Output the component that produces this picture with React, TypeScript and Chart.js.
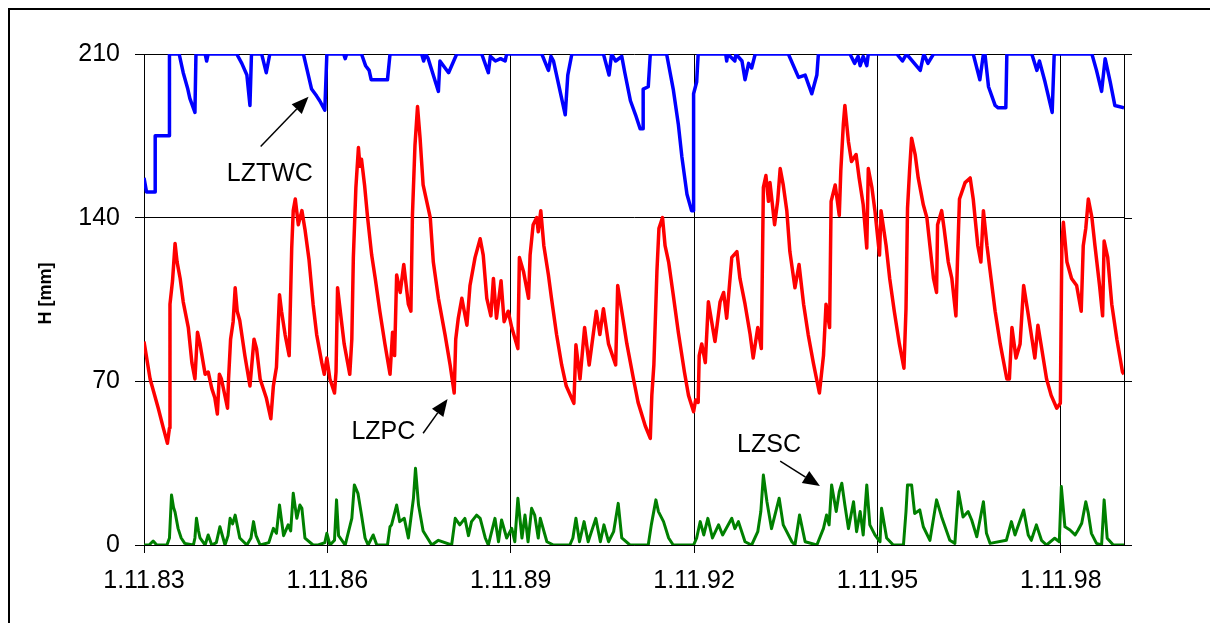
import React, { useEffect, useRef } from "react";
import { Chart, registerables } from "chart.js";

Chart.register(...registerables);

// x values are months since 1.11.83
const xMax = 192.4;
const tickMonths = [0, 36, 72, 108, 144, 180];
const tickLabels = ["1.11.83", "1.11.86", "1.11.89", "1.11.92", "1.11.95", "1.11.98"];
const yTickValues = [0, 70, 140, 210];
const yTitle = "H [mm]";

const lztwc: [number, number][] = [
  [0, 157], [0.5, 151], [2.2, 151], [2.2, 175], [5.0, 175], [5.0, 210], [6.9, 210], [7.7, 202], [8.6, 195], [9.0, 191],
  [10.0, 185], [10.2, 210], [12.0, 210], [12.3, 207], [12.6, 210], [18.2, 210], [19.2, 206], [20.2, 201], [20.8, 188], [21.1, 210],
  [23.1, 210], [24.0, 202], [24.7, 210], [31.3, 210], [32.9, 195], [33.9, 192], [34.5, 190], [35.5, 186], [35.9, 210], [39.2, 210],
  [39.5, 208], [39.8, 210], [42.7, 210], [43.5, 205], [44.2, 203], [44.6, 199], [47.8, 199], [48.3, 210], [54.5, 210], [54.9, 207],
  [55.3, 210], [55.8, 208], [57.8, 194], [58.1, 207], [59.8, 202], [61.4, 210], [66.3, 210], [67.6, 202], [68.0, 209], [69.0, 207],
  [70.0, 208], [70.9, 207], [71.2, 210], [78.1, 210], [79.4, 203], [79.9, 209], [80.4, 207], [82.7, 184], [83.2, 201], [84.0, 210],
  [90.2, 210], [91.3, 201], [91.8, 210], [92.6, 207], [93.8, 209], [94.4, 202], [95.5, 190], [96.5, 184], [97.4, 178], [98.0, 178],
  [98.0, 195], [99.0, 196], [99.4, 210], [102.6, 210], [103.9, 195], [104.9, 180], [105.6, 166], [106.6, 150], [107.5, 143], [107.9, 143],
  [107.9, 193], [108.5, 198], [108.8, 210], [114.2, 210], [114.4, 207], [114.6, 210], [116.0, 207], [116.2, 210], [117.4, 207], [118.0, 199],
  [118.7, 206], [119.3, 204], [120.0, 210], [126.5, 210], [128.5, 200], [129.8, 201], [131.1, 193], [132.1, 201], [132.4, 210], [138.6, 210],
  [139.5, 206], [140.2, 209], [140.6, 205], [141.2, 209], [141.9, 205], [142.2, 210], [147.8, 210], [148.9, 207], [149.7, 210], [152.4, 203],
  [153.1, 210], [153.9, 206], [155.0, 210], [162.8, 210], [164.1, 199], [164.8, 210], [165.1, 210], [165.8, 196], [167.1, 188], [167.7, 187],
  [169.2, 187], [169.4, 210], [174.3, 210], [175.3, 203], [175.8, 207], [176.9, 198], [178.3, 185], [178.7, 210], [186.1, 210], [187.0, 203],
  [188.0, 194], [188.7, 208], [189.7, 198], [190.6, 188], [192.4, 187],
];

const lzpc: [number, number][] = [
  [0, 87], [1.2, 71], [2.8, 58.5], [3.8, 50], [4.6, 43.5], [5.0, 50], [5.1, 103], [5.6, 113], [6.1, 129], [6.5, 121],
  [7.1, 114], [7.7, 104], [8.7, 93], [9.4, 78], [10.0, 71], [10.5, 91], [11.0, 86], [12.0, 73], [12.6, 74], [13.3, 67],
  [13.9, 63], [14.4, 56], [14.8, 73], [15.2, 71], [16.4, 58.5], [16.6, 71], [17.0, 88], [17.5, 95.5], [17.9, 110], [18.3, 100],
  [18.8, 96], [19.8, 81], [20.8, 68], [21.6, 88], [22.1, 84], [22.8, 71], [24.0, 63], [24.9, 54], [25.4, 68], [26.0, 76],
  [26.6, 107], [27.0, 100], [27.7, 90], [28.5, 81], [29.0, 127], [29.3, 143], [29.7, 148], [30.3, 137], [31.0, 143], [31.6, 135],
  [32.4, 122], [33.2, 103], [33.9, 90], [34.9, 78], [35.4, 73], [35.9, 80], [36.5, 71], [37.4, 65], [37.7, 74], [38.0, 110],
  [38.7, 97], [39.3, 86], [40.4, 73], [40.8, 88], [41.1, 123], [41.6, 153], [42.1, 170], [42.4, 162], [42.7, 165], [43.3, 154],
  [43.9, 140], [44.7, 124], [45.4, 114], [46.3, 100], [47.3, 86], [48.3, 73], [48.8, 91], [49.2, 81], [49.6, 115.5], [50.3, 108],
  [51.0, 120], [51.9, 103], [52.4, 100], [52.7, 141], [53.2, 171], [53.7, 187.5], [54.2, 174], [54.8, 154], [56.2, 140], [56.8, 121],
  [57.8, 105.5], [59.1, 90], [60.1, 77], [60.9, 65], [61.2, 88], [61.7, 97], [62.4, 105.5], [63.4, 94], [64.0, 111], [65.0, 123],
  [66.0, 131], [66.6, 124], [67.3, 105.5], [68.1, 98], [68.6, 114], [69.2, 97], [70.1, 113], [70.7, 95.5], [71.5, 100], [72.2, 93],
  [73.4, 84], [73.7, 123], [74.5, 117], [75.5, 105.5], [75.8, 124], [76.4, 137], [77.1, 140], [77.4, 134], [77.9, 143], [78.5, 128],
  [79.4, 115.5], [80.0, 105.5], [81.0, 90], [82.0, 77], [82.9, 68], [84.4, 60.6], [84.8, 85.6], [85.6, 71], [86.5, 93], [87.4, 77],
  [88.8, 100], [89.5, 90], [90.2, 101], [91.2, 86], [92.6, 77], [93.0, 111], [93.8, 100], [94.8, 86], [96.1, 71], [97.0, 61],
  [98.4, 51], [99.4, 45.6], [99.7, 64], [100.1, 77], [100.7, 117], [101.1, 135.5], [101.8, 140], [102.3, 128], [103.0, 121], [103.9, 107],
  [104.9, 91], [106.1, 74], [106.9, 64], [107.9, 57], [108.3, 62], [108.8, 61], [109.0, 81], [109.5, 86], [110.2, 78], [110.8, 104],
  [112.1, 87], [113.1, 104], [113.8, 108], [114.4, 97], [115.4, 123], [116.4, 125.5], [117.0, 114], [118.0, 103], [119.0, 90], [119.6, 80],
  [120.5, 93], [121.2, 84], [121.6, 153], [122.1, 158], [122.6, 147], [122.9, 155], [123.8, 137], [124.4, 147], [124.9, 161], [125.5, 154],
  [126.2, 143], [126.8, 125.5], [127.8, 110], [128.6, 120], [129.5, 103], [130.4, 90], [131.4, 78], [132.6, 65], [133.4, 81], [133.9, 103],
  [134.6, 93], [134.9, 147], [135.7, 154], [136.5, 141], [136.8, 160], [137.3, 180], [137.6, 188], [138.3, 172.5], [138.9, 164], [139.8, 167],
  [140.4, 157], [141.2, 145.5], [141.9, 127], [142.2, 161], [142.9, 153], [143.5, 143], [144.4, 124], [144.7, 143], [145.7, 128], [146.4, 114],
  [147.3, 100], [148.3, 86], [149.2, 75.6], [149.6, 101], [149.9, 144], [150.3, 160], [150.7, 174], [151.4, 167], [152.0, 157], [153.0, 145.5],
  [153.7, 140], [154.3, 128], [155.0, 114], [155.6, 108], [155.8, 137], [156.6, 143], [157.1, 135], [157.9, 121], [158.6, 114], [159.4, 98],
  [159.7, 121], [160.1, 148], [161.2, 155], [162.2, 157], [162.8, 148], [163.7, 128], [164.3, 121], [164.8, 143], [165.5, 128], [166.3, 114],
  [167.1, 100], [168.1, 86], [169.4, 71], [169.9, 71], [170.4, 93], [171.2, 80], [172.0, 86], [172.7, 111], [173.5, 100], [174.9, 80],
  [175.5, 94], [176.1, 86], [177.2, 71], [178.1, 64], [179.2, 58.5], [179.9, 60.6], [180.2, 128], [180.5, 138], [181.2, 121], [182.1, 114],
  [183.1, 111], [184.0, 100], [184.4, 128], [184.9, 135.5], [185.4, 148], [186.1, 140], [186.7, 128], [187.6, 111], [188.2, 98], [188.5, 130],
  [189.2, 123], [190.0, 103], [191.0, 88], [192.1, 74], [192.4, 73],
];

const lzsc: [number, number][] = [
  [0, 0], [1.0, 0], [1.8, 1.7], [2.5, 0], [4.5, 0], [5.0, 3], [5.4, 21.4], [5.8, 16], [6.1, 14], [6.7, 7],
  [7.3, 3], [8.0, 0.7], [9.7, 0], [10.0, 3], [10.3, 11.4], [10.7, 6], [11.0, 3], [12.0, 0], [12.6, 4.3], [13.3, 0],
  [14.2, 1], [14.9, 7.8], [15.9, 0], [16.5, 4], [16.9, 11.4], [17.4, 9], [17.9, 12.8], [18.8, 3], [20.2, 0], [21.0, 3],
  [21.5, 10], [22.0, 4], [22.8, 0], [24.5, 1], [25.4, 7.1], [26.0, 5], [26.6, 17.1], [27.4, 4], [28.3, 8.6], [28.8, 6],
  [29.3, 22.1], [30.0, 11.4], [30.6, 17.1], [31.0, 15.7], [31.6, 2.9], [33.2, 0], [34.2, 0], [35.5, 1], [35.9, 5], [36.5, 0],
  [37.4, 2], [37.8, 19.3], [38.2, 4], [39.5, 0], [40.8, 11.4], [41.3, 25.7], [42.0, 22.1], [42.7, 12.8], [43.4, 3], [44.0, 0],
  [45.0, 4.3], [45.7, 0], [47.8, 0], [48.3, 7.8], [48.6, 8.6], [49.6, 17.1], [50.2, 10], [51.1, 11.4], [51.9, 3], [52.9, 20],
  [53.3, 32.8], [53.9, 17.1], [54.8, 6], [56.5, 0], [57.8, 2], [60.4, 0], [61.1, 11.4], [62.0, 8.6], [63.0, 11.4], [63.7, 4],
  [64.3, 10], [65.3, 12.8], [66.0, 11.4], [67.0, 3], [67.6, 0], [68.9, 11.4], [69.6, 1.4], [70.2, 10.7], [71.2, 3], [72.2, 7.1],
  [72.8, 1.4], [73.4, 20], [74.2, 3], [74.8, 12.8], [75.4, 1.4], [76.1, 15.7], [76.7, 12.8], [77.4, 3], [77.8, 11.4], [79.1, 1.4],
  [80.4, 0], [83.6, 0], [84.2, 3], [84.8, 11.4], [85.5, 1.4], [86.4, 10], [87.2, 1.4], [88.7, 11.4], [89.6, 1.4], [90.3, 8.6],
  [91.2, 1.4], [92.2, 5.7], [93.1, 17.8], [93.8, 3], [95.4, 0], [99.0, 0], [99.6, 8.6], [100.5, 19.3], [101.0, 14.3], [102.0, 10],
  [103.0, 3], [103.9, 0], [107.9, 0], [108.5, 3], [109.2, 10], [109.9, 4.3], [110.7, 11.4], [111.6, 3], [112.8, 8.6], [113.6, 4.3],
  [115.4, 11.4], [116.0, 7], [116.7, 10], [118.0, 1.4], [119.3, 0], [120.5, 5.7], [121.1, 14.3], [121.6, 29.9], [122.3, 18.5], [123.2, 7],
  [124.7, 20], [125.5, 8.6], [127.2, 1.4], [127.8, 0], [128.7, 12.8], [129.8, 1.4], [132.1, 0], [133.4, 7.1], [134.0, 12.8], [134.5, 8.6],
  [135.0, 25.7], [135.9, 14.3], [136.5, 22.8], [137.0, 26.4], [137.6, 17.1], [138.3, 7], [139.3, 18.5], [139.9, 5.7], [140.6, 14.3], [141.2, 4.3],
  [141.9, 25.7], [142.5, 8.6], [143.5, 4.3], [144.5, 1.4], [144.8, 15.7], [145.8, 3], [147.1, 0], [149.1, 0], [149.6, 14.3], [149.9, 25.7],
  [150.7, 25.7], [151.3, 13.5], [152.3, 15], [153.0, 7.8], [154.3, 2], [155.6, 19.3], [156.6, 12], [158.2, 2], [159.2, 0.7], [159.9, 22.8],
  [160.8, 12], [161.8, 14.3], [162.5, 10.7], [163.5, 3.5], [164.8, 18.5], [165.4, 5], [166.1, 0.7], [169.3, 2], [170.3, 10], [171.0, 4.3],
  [172.7, 15], [173.6, 4.3], [174.2, 2], [175.2, 8.6], [176.2, 2], [177.2, 0], [178.8, 2.9], [179.7, 1.4], [180.1, 25], [180.8, 7.8],
  [181.8, 6.4], [182.8, 4.3], [183.4, 6.4], [184.1, 9.3], [184.9, 18.5], [185.4, 13.5], [186.0, 5], [187.0, 0.7], [188.0, 0], [188.5, 19.3],
  [189.1, 2.9], [190.3, 0], [192.4, 0],
];

// annotation labels with arrows (data coordinates: month, value)
const annotationTexts = ["LZTWC", "LZPC", "LZSC"];
const annotationTextAt: [number, number][] = [[24.7, 158.7], [47.0, 48.1], [122.7, 42.8]];
const arrowFrom: [number, number][] = [[22.9, 170.4], [54.8, 47.8], [124.9, 35.9]];
const arrowTo: [number, number][] = [[32.3, 191.7], [59.6, 62.4], [132.7, 25.2]];

const FONT = "'Liberation Sans', Arial, sans-serif";

const toPoints = (s: [number, number][]) => s.map(([x, y]) => ({ x, y }));

const framePlugin = {
  id: "frame",
  beforeDatasetsDraw(chart: any) {
    const { ctx, chartArea, scales } = chart;
    ctx.save();
    ctx.strokeStyle = "#000";
    ctx.lineWidth = 1;
    const r = Math.round(chartArea.right) + 0.5;
    ctx.beginPath();
    ctx.moveTo(r, chartArea.top);
    ctx.lineTo(r, chartArea.bottom);
    yTickValues.forEach((v) => {
      const py = Math.round(scales.y.getPixelForValue(v)) + 0.5;
      ctx.moveTo(chartArea.right, py);
      ctx.lineTo(chartArea.right + 8, py);
    });
    ctx.stroke();
    ctx.restore();
  },
};

const titlePlugin = {
  id: "yTitle",
  afterDraw(chart: any) {
    const { ctx, chartArea } = chart;
    ctx.save();
    ctx.font = `bold 18px ${FONT}`;
    ctx.fillStyle = "#000";
    ctx.textAlign = "center";
    ctx.textBaseline = "middle";
    ctx.translate(46, (chartArea.top + chartArea.bottom) / 2 - 6);
    ctx.rotate(-Math.PI / 2);
    ctx.fillText(yTitle, 0, 0);
    ctx.restore();
  },
};

const arrowPlugin = {
  id: "arrowLabels",
  afterDatasetsDraw(chart: any) {
    const { ctx, scales } = chart;
    const xs = scales.x;
    const ys = scales.y;
    ctx.save();
    ctx.font = `25px ${FONT}`;
    ctx.fillStyle = "#000";
    ctx.strokeStyle = "#000";
    ctx.textAlign = "center";
    ctx.textBaseline = "middle";
    annotationTexts.forEach((t, i) => {
      ctx.fillText(t, xs.getPixelForValue(annotationTextAt[i][0]), ys.getPixelForValue(annotationTextAt[i][1]));
      const x1 = xs.getPixelForValue(arrowFrom[i][0]);
      const y1 = ys.getPixelForValue(arrowFrom[i][1]);
      const x2 = xs.getPixelForValue(arrowTo[i][0]);
      const y2 = ys.getPixelForValue(arrowTo[i][1]);
      const a = Math.atan2(y2 - y1, x2 - x1);
      const hl = 17;
      const hw = 7;
      const bx = x2 - hl * Math.cos(a);
      const by = y2 - hl * Math.sin(a);
      ctx.lineWidth = 1.5;
      ctx.beginPath();
      ctx.moveTo(x1, y1);
      ctx.lineTo(bx, by);
      ctx.stroke();
      ctx.beginPath();
      ctx.moveTo(x2, y2);
      ctx.lineTo(bx + hw * Math.sin(a), by - hw * Math.cos(a));
      ctx.lineTo(bx - hw * Math.sin(a), by + hw * Math.cos(a));
      ctx.closePath();
      ctx.fill();
    });
    ctx.restore();
  },
};

export default function App() {
  const ref = useRef<HTMLCanvasElement | null>(null);

  useEffect(() => {
    if (!ref.current) return;
    const chart = new Chart(ref.current, {
      type: "line",
      data: {
        datasets: [
          {
            label: "LZTWC",
            data: toPoints(lztwc),
            borderColor: "#0000FF",
            borderWidth: 3.5,
            pointRadius: 0,
            tension: 0,
            borderJoinStyle: "round",
          },
          {
            label: "LZPC",
            data: toPoints(lzpc),
            borderColor: "#FF0000",
            borderWidth: 3.5,
            pointRadius: 0,
            tension: 0,
            borderJoinStyle: "round",
          },
          {
            label: "LZSC",
            data: toPoints(lzsc),
            borderColor: "#008000",
            borderWidth: 3,
            pointRadius: 0,
            tension: 0,
            borderJoinStyle: "round",
          },
        ],
      },
      options: {
        responsive: false,
        animation: false,
        devicePixelRatio: 1,
        layout: { padding: { top: 54, right: 86, left: 0, bottom: 0 } },
        plugins: { legend: { display: false }, tooltip: { enabled: false } },
        scales: {
          x: {
            type: "linear",
            min: 0,
            max: xMax,
            afterBuildTicks: (s: any) => {
              s.ticks = tickMonths.map((v) => ({ value: v }));
            },
            afterFit: (s: any) => {
              s.height = 78;
            },
            ticks: {
              autoSkip: false,
              maxRotation: 0,
              padding: 13,
              color: "#000",
              font: { family: FONT, size: 25 },
              callback: (v: any) => tickLabels[tickMonths.indexOf(Number(v))] ?? "",
            },
            grid: { color: "#000", lineWidth: 1, tickLength: 8 },
            border: { display: true, color: "#000", width: 1 },
          },
          y: {
            type: "linear",
            min: 0,
            max: 210,
            afterBuildTicks: (s: any) => {
              s.ticks = yTickValues.map((v) => ({ value: v }));
            },
            afterFit: (s: any) => {
              s.width = 144;
            },
            ticks: {
              padding: 15,
              color: "#000",
              font: { family: FONT, size: 25 },
            },
            grid: { color: "#000", lineWidth: 1, tickLength: 9 },
            border: { display: true, color: "#000", width: 1 },
            title: { display: false },
          },
        },
      },
      plugins: [framePlugin, arrowPlugin, titlePlugin],
    });
    return () => chart.destroy();
  }, []);

  return (
    <div style={{ position: "absolute", left: 0, top: 0, width: 1210, height: 623, background: "#fff" }}>
      <div
        style={{
          position: "absolute",
          left: 8,
          top: 8,
          width: 1202,
          height: 615,
          borderTop: "2px solid #000",
          borderLeft: "2px solid #000",
          boxSizing: "border-box",
        }}
      />
      <canvas ref={ref} width={1210} height={623} style={{ position: "absolute", left: 0, top: 0 }} />
    </div>
  );
}
